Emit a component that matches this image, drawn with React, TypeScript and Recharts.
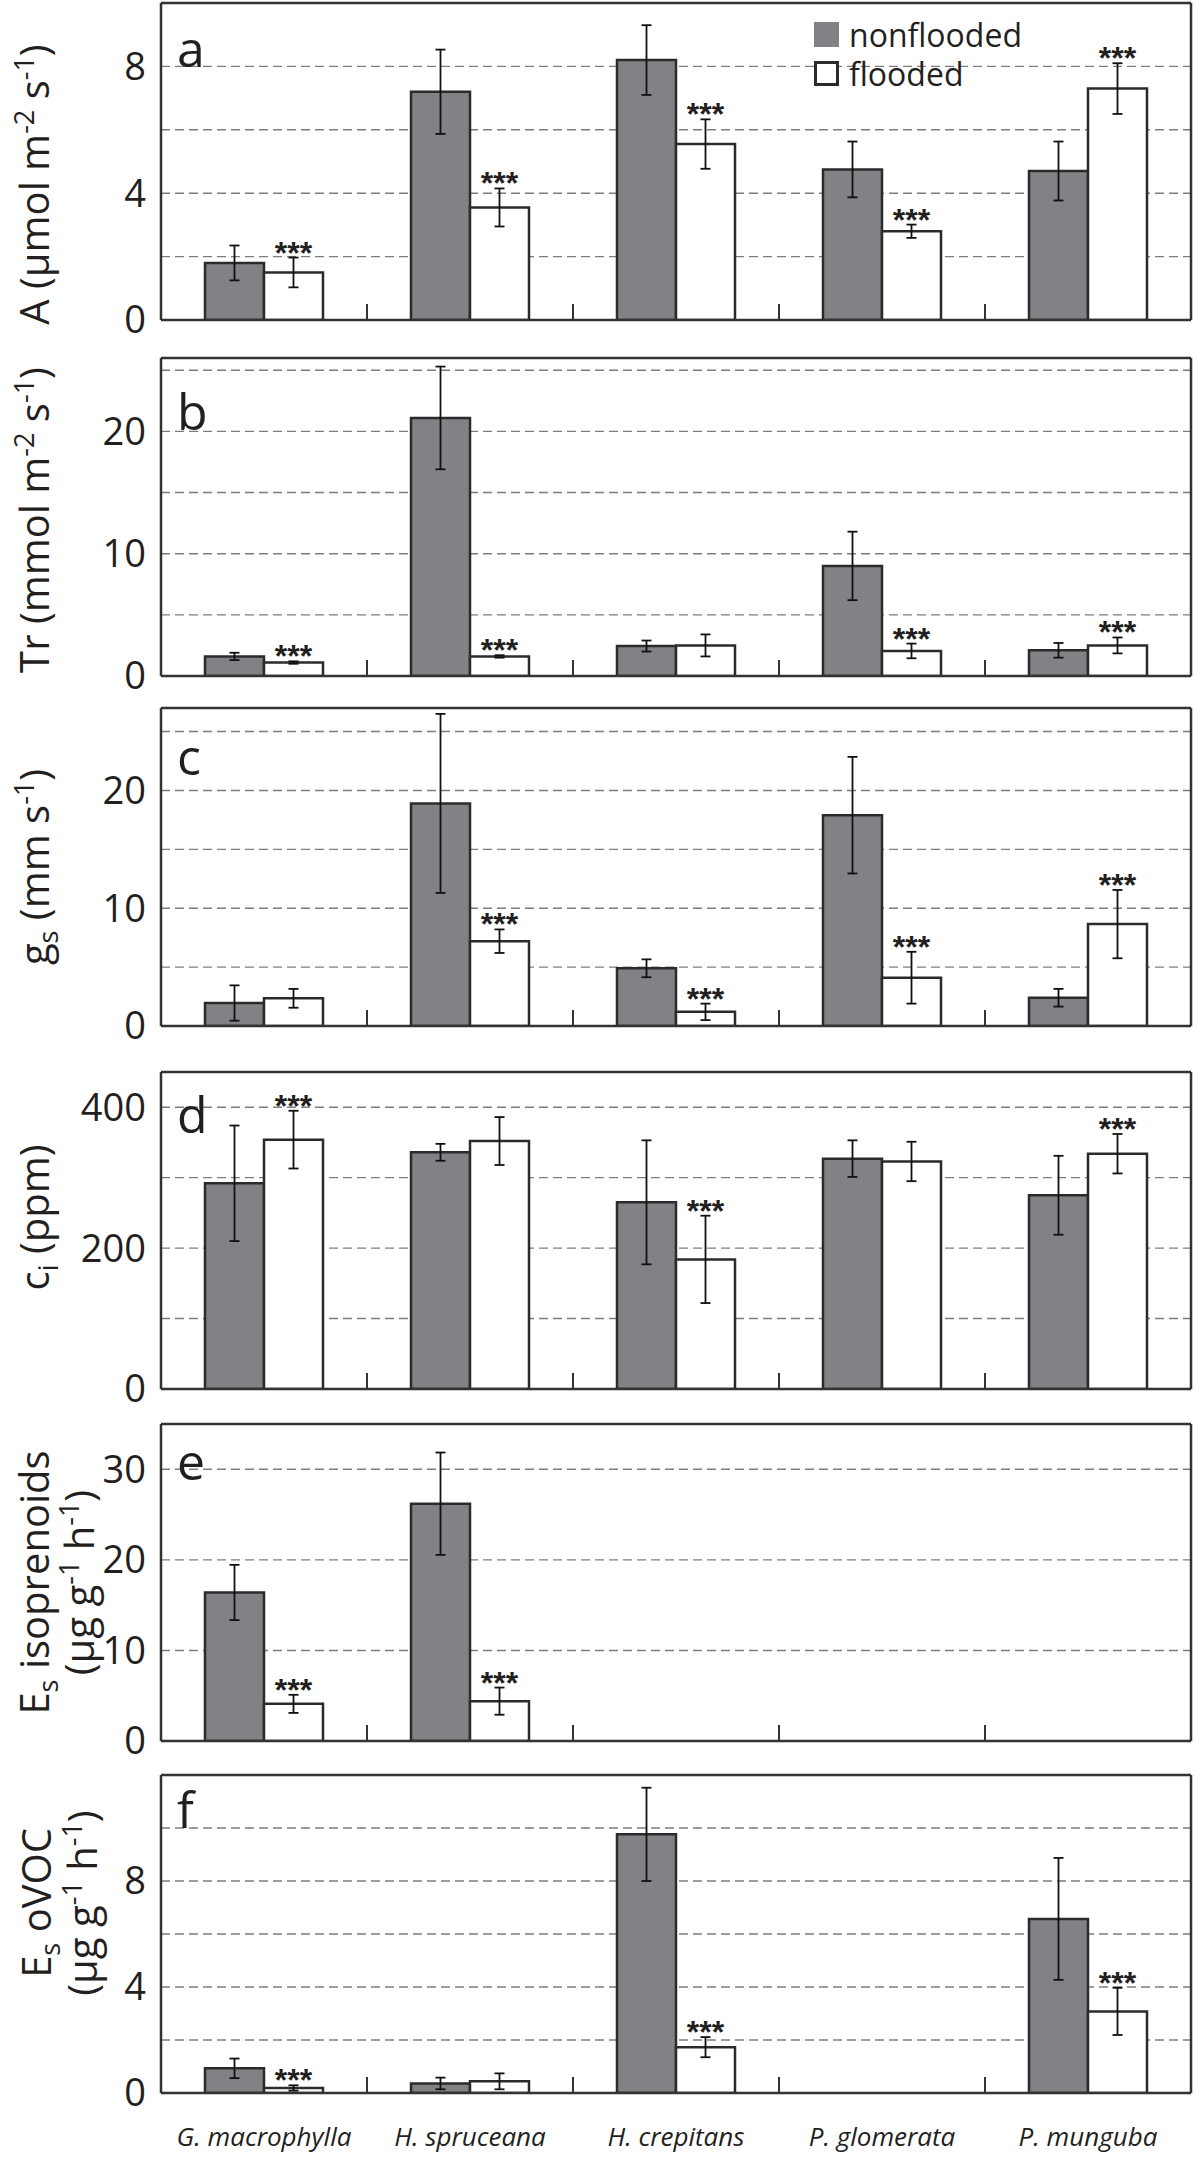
import React from 'react';
import { BarChart, Bar, XAxis, YAxis, CartesianGrid, ErrorBar, LabelList, Legend } from 'recharts';

const species = ['G. macrophylla', 'H. spruceana', 'H. crepitans', 'P. glomerata', 'P. munguba'];

// a: net assimilation
const aNon = [1.8, 7.2, 8.2, 4.75, 4.7];
const aNonErr = [0.55, 1.33, 1.1, 0.88, 0.93];
const aFl = [1.5, 3.55, 5.55, 2.8, 7.3];
const aFlErr = [0.47, 0.6, 0.78, 0.21, 0.8];
const aSig = [true, true, true, true, true];

// b: transpiration
const bNon = [1.6, 21.1, 2.45, 9.0, 2.1];
const bNonErr = [0.3, 4.2, 0.45, 2.8, 0.6];
const bFl = [1.1, 1.6, 2.5, 2.05, 2.5];
const bFlErr = [0.1, 0.1, 0.9, 0.6, 0.65];
const bSig = [true, true, false, true, true];

// c: stomatal conductance
const cNon = [1.95, 18.9, 4.9, 17.9, 2.4];
const cNonErr = [1.5, 7.6, 0.76, 4.95, 0.75];
const cFl = [2.35, 7.2, 1.2, 4.1, 8.65];
const cFlErr = [0.8, 1.0, 0.7, 2.2, 2.9];
const cSig = [false, true, true, true, true];

// d: intercellular CO2
const dNon = [292, 336, 265, 327, 275];
const dNonErr = [82, 12, 88, 26, 56];
const dFl = [354, 352, 184, 323, 334];
const dFlErr = [41, 34, 62, 28, 28];
const dSig = [true, false, true, false, true];

// e: isoprenoid emission
const eNon = [16.4, 26.2, null, null, null];
const eNonErr = [3.05, 5.65, null, null, null];
const eFl = [4.1, 4.4, null, null, null];
const eFlErr = [1.0, 1.5, null, null, null];
const eSig = [true, true, false, false, false];

// f: oVOC emission
const fNon = [0.93, 0.36, 9.76, null, 6.57];
const fNonErr = [0.37, 0.22, 1.76, null, 2.3];
const fFl = [0.19, 0.44, 1.73, null, 3.08];
const fFlErr = [0.1, 0.3, 0.38, null, 0.89];
const fSig = [true, false, true, false, true];

const legendOrder = ['nonflooded', 'flooded'];

const FONT = '"Open Sans", "DejaVu Sans", sans-serif';
const GRAY = '#808285';
const INK = '#2b2b2b';
const TXT = '#231f20';

type Part = [string, 'n' | 'sup' | 'sub'];
type TitleLine = { x: number; parts: Part[] };

const unitLine: Part[] = [['(µg g', 'n'], ['-1', 'sup'], [' h', 'n'], ['-1', 'sup'], [')', 'n']];

const panels = [
  {
    letter: 'a', top: 3, h: 317, max: 10, ticks: [0, 4, 8], grid: [2, 4, 6, 8],
    non: aNon, nonErr: aNonErr, fl: aFl, flErr: aFlErr, sig: aSig,
    titleDy: 23, letterDy: 64, legend: true, xLabels: false,
    title: [{ x: 35, parts: [['A (µmol m', 'n'], ['-2', 'sup'], [' s', 'n'], ['-1', 'sup'], [')', 'n']] }] as TitleLine[],
  },
  {
    letter: 'b', top: 358, h: 318, max: 26, ticks: [0, 10, 20], grid: [5, 10, 15, 20, 25],
    non: bNon, nonErr: bNonErr, fl: bFl, flErr: bFlErr, sig: bSig,
    titleDy: 3, letterDy: 72, legend: false, xLabels: false,
    title: [{ x: 35, parts: [['Tr (mmol m', 'n'], ['-2', 'sup'], [' s', 'n'], ['-1', 'sup'], [')', 'n']] }] as TitleLine[],
  },
  {
    letter: 'c', top: 708, h: 318, max: 27, ticks: [0, 10, 20], grid: [5, 10, 15, 20, 25],
    non: cNon, nonErr: cNonErr, fl: cFl, flErr: cFlErr, sig: cSig,
    titleDy: 0, letterDy: 67, legend: false, xLabels: false,
    title: [{ x: 35, parts: [['g', 'n'], ['s', 'sub'], [' (mm s', 'n'], ['-1', 'sup'], [')', 'n']] }] as TitleLine[],
  },
  {
    letter: 'd', top: 1072, h: 317, max: 450, ticks: [0, 200, 400], grid: [100, 200, 300, 400],
    non: dNon, nonErr: dNonErr, fl: dFl, flErr: dFlErr, sig: dSig,
    titleDy: -13, letterDy: 61, legend: false, xLabels: false,
    title: [{ x: 35, parts: [['c', 'n'], ['i', 'sub'], [' (ppm)', 'n']] }] as TitleLine[],
  },
  {
    letter: 'e', top: 1424, h: 317, max: 35, ticks: [0, 10, 20, 30], grid: [10, 20, 30],
    non: eNon, nonErr: eNonErr, fl: eFl, flErr: eFlErr, sig: eSig,
    titleDy: 0, letterDy: 56, legend: false, xLabels: false,
    title: [
      { x: 35, parts: [['E', 'n'], ['s', 'sub'], [' isoprenoids', 'n']] },
      { x: 80, parts: unitLine },
    ] as TitleLine[],
  },
  {
    letter: 'f', top: 1775, h: 318, max: 12, ticks: [0, 4, 8], grid: [2, 4, 6, 8, 10],
    non: fNon, nonErr: fNonErr, fl: fFl, flErr: fFlErr, sig: fSig,
    titleDy: -31, letterDy: 53, legend: false, xLabels: true,
    title: [
      { x: 37, parts: [['E', 'n'], ['s', 'sub'], [' oVOC', 'n']] },
      { x: 83, parts: unitLine },
    ] as TitleLine[],
  },
];

type PanelCfg = (typeof panels)[number];

function TitleText({ line, cy }: { line: TitleLine; cy: number }) {
  let prev = 0;
  return (
    <text
      transform={`translate(${line.x + 14}, ${cy}) rotate(-90)`}
      textAnchor="middle"
      fontFamily={FONT}
      fontSize={40}
      fill={TXT}
    >
      {line.parts.map(([t, k], j) => {
        const shift = k === 'sup' ? -15 : k === 'sub' ? 9 : 0;
        const dy = shift - prev;
        prev = shift;
        return (
          <tspan key={j} dy={dy} fontSize={k === 'n' ? 40 : 27}>
            {t}
          </tspan>
        );
      })}
    </text>
  );
}

const axisLabel = (p: PanelCfg) => (props: any) => {
  const vb = props.viewBox || {};
  const cy = vb.y + vb.height / 2 + p.titleDy;
  const plotLeft = vb.x + vb.width;
  return (
    <g>
      {p.title.map((line, i) => (
        <TitleText key={i} line={line} cy={cy} />
      ))}
      <text x={plotLeft + 16} y={vb.y + p.letterDy} fontFamily={FONT} fontSize={50} fill={TXT}>
        {p.letter}
      </text>
    </g>
  );
};

// category tick: short inward mark at the right edge of each band, plus optional species name
const catTick = (showLabel: boolean) => (props: any) => {
  const { x, y, payload, index, width, visibleTicksCount } = props;
  const half = payload && payload.offset ? payload.offset : width / visibleTicksCount / 2;
  const last = index >= visibleTicksCount - 1;
  return (
    <g>
      {!last && (
        <line x1={x + half} x2={x + half} y1={y} y2={y - 16} stroke="#333" strokeWidth={2} />
      )}
      {showLabel && (
        <text x={x} y={y + 53} textAnchor="middle" fontFamily={FONT} fontSize={26} fontStyle="italic" fill={TXT}>
          {payload.value}
        </text>
      )}
    </g>
  );
};

// stars sit just above the flooded error bar; row is found by species name
const starLabel = (rows: any[]) => (props: any) => {
  const vb = props.viewBox || props;
  const row = rows.find((r) => r.name === props.value);
  if (!row || !row.sig || row.fl == null || !vb.height) return null;
  const pxPerUnit = vb.height / row.fl;
  const errTop = vb.y - row.flErr * pxPerUnit;
  return (
    <text
      x={vb.x + vb.width / 2}
      y={errTop + 6}
      textAnchor="middle"
      fontFamily='"Liberation Sans", Arial, sans-serif'
      fontWeight="bold"
      fontSize={32}
      fill={TXT}
    >
      ***
    </text>
  );
};

const renderLegend = (props: any) => {
  const items = [...(props.payload || [])].sort(
    (a: any, b: any) => legendOrder.indexOf(a.value) - legendOrder.indexOf(b.value)
  );
  return (
    <div style={{ fontFamily: FONT, fontSize: 32, lineHeight: '39px', color: TXT }}>
      {items.map((e: any) => (
        <div key={e.value} style={{ display: 'flex', alignItems: 'center' }}>
          <span
            style={{
              display: 'inline-block',
              width: 25,
              height: 25,
              boxSizing: 'border-box',
              background: e.color,
              border: e.color === GRAY ? 'none' : `3px solid ${INK}`,
              marginRight: 10,
            }}
          />
          {e.value}
        </div>
      ))}
    </div>
  );
};

function Panel({ p }: { p: PanelCfg }) {
  const data = species.map((name, i) => ({
    name,
    non: p.non[i],
    nonErr: p.nonErr[i],
    fl: p.fl[i],
    flErr: p.flErr[i],
    sig: p.sig[i],
  }));
  const mTop = 10;
  const mBottom = p.xLabels ? 75 : 30;
  const frame = { stroke: '#333', strokeWidth: 2.5 };

  return (
    <div style={{ position: 'absolute', left: 0, top: p.top - mTop }}>
      <BarChart
        width={1200}
        height={p.h + mTop + mBottom}
        data={data}
        margin={{ top: mTop - 1, right: 8, bottom: mBottom - 1, left: 0 }}
        barGap={0}
        barSize={59}
      >
        <CartesianGrid
          vertical={false}
          horizontalValues={p.grid}
          stroke="#7d7d7d"
          strokeWidth={1.4}
          strokeDasharray="9 5"
        />
        <XAxis
          dataKey="name"
          height={1}
          interval={0}
          tickLine={false}
          tickSize={0}
          tickMargin={0}
          axisLine={frame}
          tick={catTick(p.xLabels)}
        />
        <XAxis xAxisId="top" orientation="top" dataKey="name" height={1} tick={false} tickLine={false} axisLine={frame} />
        <YAxis
          domain={[0, p.max]}
          ticks={p.ticks}
          interval={0}
          allowDataOverflow
          width={161}
          tickLine={false}
          tickSize={0}
          tickMargin={15}
          axisLine={frame}
          tick={{ fontFamily: FONT, fontSize: 38, fill: TXT }}
          label={{ content: axisLabel(p) }}
        />
        <YAxis yAxisId="right" orientation="right" width={1} tick={false} tickLine={false} axisLine={frame} />
        {p.legend && (
          <Legend
            layout="vertical"
            align="center"
            verticalAlign="middle"
            wrapperStyle={{ left: 814, top: 22, width: 'auto', height: 'auto' }}
            content={renderLegend}
          />
        )}
        <Bar dataKey="non" name="nonflooded" fill={GRAY} stroke={INK} strokeWidth={2.5} isAnimationActive={false}>
          <ErrorBar dataKey="nonErr" width={5} stroke="#111" strokeWidth={1.8} direction="y" isAnimationActive={false} />
        </Bar>
        <Bar dataKey="fl" name="flooded" fill="#ffffff" stroke={INK} strokeWidth={2.5} isAnimationActive={false}>
          <ErrorBar dataKey="flErr" width={5} stroke="#111" strokeWidth={1.8} direction="y" isAnimationActive={false} />
          <LabelList dataKey="name" content={starLabel(data)} />
        </Bar>
      </BarChart>
    </div>
  );
}

export default function App() {
  return (
    <div
      style={{
        position: 'absolute',
        left: 0,
        top: 0,
        width: 1200,
        height: 2170,
        background: '#fff',
        overflow: 'hidden',
      }}
    >
      {panels.map((p) => (
        <Panel key={p.letter} p={p} />
      ))}
    </div>
  );
}
